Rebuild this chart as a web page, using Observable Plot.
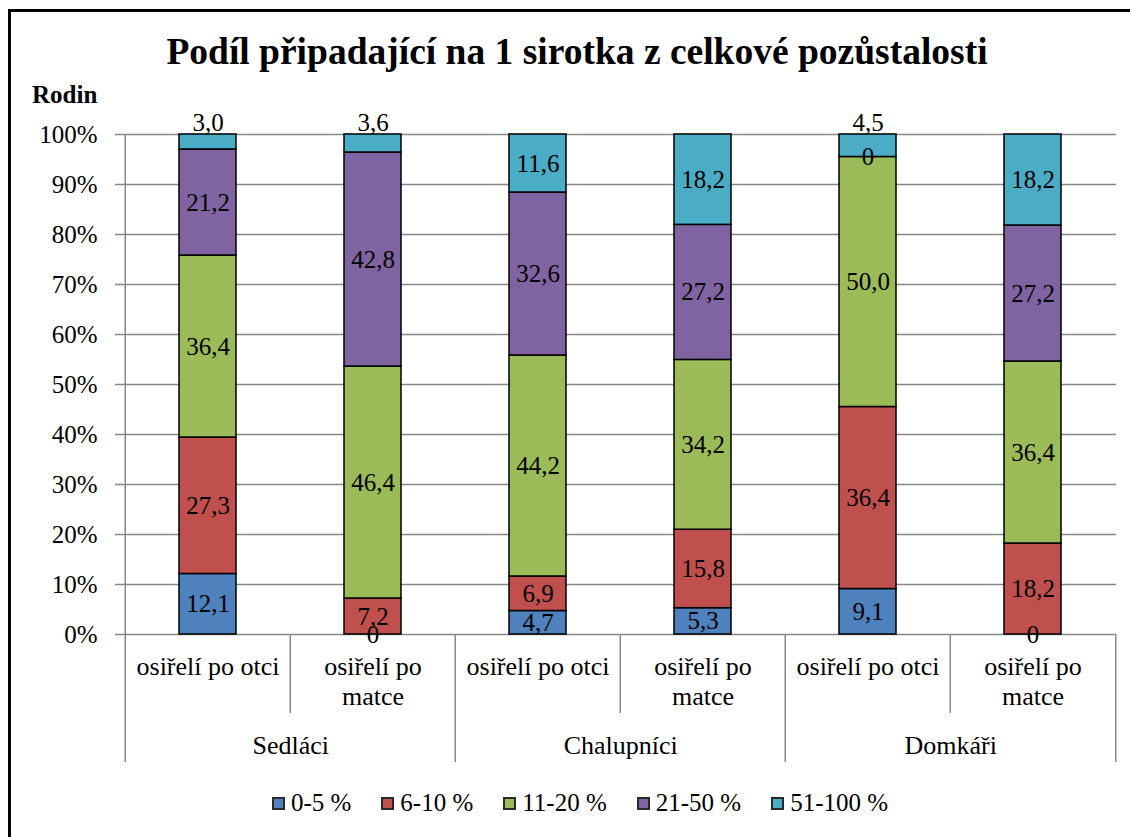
<!DOCTYPE html>
<html><head><meta charset="utf-8">
<script src="https://cdn.jsdelivr.net/npm/d3@7"></script>
<script src="https://cdn.jsdelivr.net/npm/@observablehq/plot@0.6"></script>
<style>
html,body{margin:0;padding:0;overflow:hidden;background:#fff;width:1130px;height:837px;}
body{font-family:"Liberation Serif","Times New Roman",serif;color:#000;position:relative;}
#frame{position:absolute;left:8px;top:9px;width:1160px;height:860px;border:3px solid #000;box-sizing:border-box;}
#title{position:absolute;left:0;width:1154px;top:30px;text-align:center;font-weight:bold;font-size:37.5px;line-height:44px;}
#ylabel{position:absolute;left:32px;top:80px;font-weight:bold;font-size:25px;line-height:30px;}
#chart{position:absolute;left:0;top:110px;}
#chart svg text{font-family:"Liberation Serif","Times New Roman",serif;}
#legend{position:absolute;left:0;width:1160px;top:788px;display:flex;justify-content:center;gap:30px;font-size:25px;line-height:30px;}
.item{display:flex;align-items:center;}
.sw{width:9px;height:9px;border:2px solid #2a2a2a;margin-right:6px;}
</style></head><body>
<div id="frame"></div>
<div id="title">Podíl připadající na 1 sirotka z celkové pozůstalosti</div>
<div id="ylabel">Rodin</div>
<div id="chart"></div>
<div id="legend"></div>
<script>
// ---- data ----
const groups = ["Sedláci", "Chalupníci", "Domkáři"];
const subcats = ["osiřelí po otci", "osiřelí po\nmatce"];
const series = ["0-5 %", "6-10 %", "11-20 %", "21-50 %", "51-100 %"];
const colors = ["#4F81BD", "#C0504D", "#9BBB59", "#8064A2", "#4BACC6"];
// values in series order (0-5, 6-10, 11-20, 21-50, 51-100)
const sedlaciOtci     = [12.1, 27.3, 36.4, 21.2, 3.0];
const sedlaciMatce    = [0, 7.2, 46.4, 42.8, 3.6];
const chalupniciOtci  = [4.7, 6.9, 44.2, 32.6, 11.6];
const chalupniciMatce = [5.3, 15.8, 34.2, 27.2, 18.2];
const domkariOtci     = [9.1, 36.4, 50.0, 0, 4.5];
const domkariMatce    = [0, 18.2, 36.4, 27.2, 18.2];
const yTicks = [0, 10, 20, 30, 40, 50, 60, 70, 80, 90, 100];

const valuesByColumn = [
  [sedlaciOtci, sedlaciMatce],
  [chalupniciOtci, chalupniciMatce],
  [domkariOtci, domkariMatce]
];

// ---- build tables ----
const columns = [];
groups.forEach((g, gi) => subcats.forEach((s, si) => {
  columns.push({key: g + "|" + si, group: g, sub: s, si, values: valuesByColumn[gi][si]});
}));
const keys = columns.map(c => c.key);
const rows = [];
columns.forEach(c => c.values.forEach((v, k) => rows.push({key: c.key, series: series[k], value: v, last: k === series.length - 1})));
const fmt = v => v === 0 ? "0" : v.toFixed(1).replace(".", ",");
const smallTop = d => d.last && d.value < 5;

const W = 1130, mL = 123, mR = 14;
const bw = (W - mL - mR) / keys.length;
const grid = "#878787";
const serif = '"Liberation Serif","Times New Roman",serif';
const groupFirst = columns.filter(c => c.si === 0);
const subSecond = columns.filter(c => c.si === 1);

const plot = Plot.plot({
  width: W, height: 670,
  marginTop: 24, marginBottom: 146, marginLeft: mL, marginRight: mR,
  style: 'font-family:"Liberation Serif","Times New Roman",serif;font-size:25px;color:black;background:transparent;overflow:visible;',
  x: {domain: keys, padding: 0, axis: null},
  y: {domain: [0, 1], axis: null},
  color: {domain: series, range: colors},
  marks: [
    Plot.gridY({ticks: yTicks.map(t => t / 100), stroke: grid, strokeOpacity: 1, strokeWidth: 1.5}),
    Plot.axisY({ticks: yTicks.map(t => t / 100), tickFormat: d3.format(".0%"), tickSize: 8, tickPadding: 18, stroke: grid, strokeWidth: 1.5, strokeOpacity: 1, fill: "black", fontSize: 25, fontFamily: serif, label: null}),
    // y axis line continuing into category axis
    Plot.ruleX([keys[0]], {x: d => d, dx: -bw / 2, y1: 1, y2: 0, insetBottom: -128, stroke: grid, strokeWidth: 1.5}),
    // group separators
    Plot.ruleX(groupFirst.slice(1), {x: "key", dx: -bw / 2, y1: 0, y2: 0, insetBottom: -128, stroke: grid, strokeWidth: 1.5}),
    Plot.ruleX([keys[keys.length - 1]], {x: d => d, dx: bw / 2, y1: 0, y2: 0, insetBottom: -128, stroke: grid, strokeWidth: 1.5}),
    // sub-category separators
    Plot.ruleX(subSecond, {x: "key", dx: -bw / 2, y1: 0, y2: 0, insetBottom: -79, stroke: grid, strokeWidth: 1.5}),
    // bars
    Plot.barY(rows, {x: "key", y: "value", fill: "series", stroke: "black", strokeWidth: 1.5, offset: "normalize", insetLeft: 54, insetRight: 54}),
    // data labels
    Plot.text(rows, Plot.stackY({x: "key", y: "value", offset: "normalize", text: d => smallTop(d) ? null : fmt(d.value), fontSize: 25, fontFamily: serif, fill: "black"})),
    Plot.text(rows.filter(smallTop), {x: "key", y: 1, dy: -12, text: d => fmt(d.value), fontSize: 25, fontFamily: serif, fill: "black"}),
    // category labels
    Plot.text(columns, {x: "key", text: "sub", frameAnchor: "bottom", lineAnchor: "top", dy: 19.5, lineHeight: 1.154, fontSize: 26, fontFamily: serif, fill: "black"}),
    Plot.text(groupFirst, {x: "key", text: "group", frameAnchor: "bottom", lineAnchor: "top", dx: bw / 2, dy: 101, fontSize: 26, fontFamily: serif, fill: "black"})
  ]
});
document.getElementById("chart").appendChild(plot);

// legend
const legend = document.getElementById("legend");
series.forEach((s, i) => {
  const it = document.createElement("div"); it.className = "item";
  const sw = document.createElement("span"); sw.className = "sw"; sw.style.background = colors[i];
  const t = document.createElement("span"); t.textContent = s;
  it.appendChild(sw); it.appendChild(t); legend.appendChild(it);
});
</script>
</body></html>
